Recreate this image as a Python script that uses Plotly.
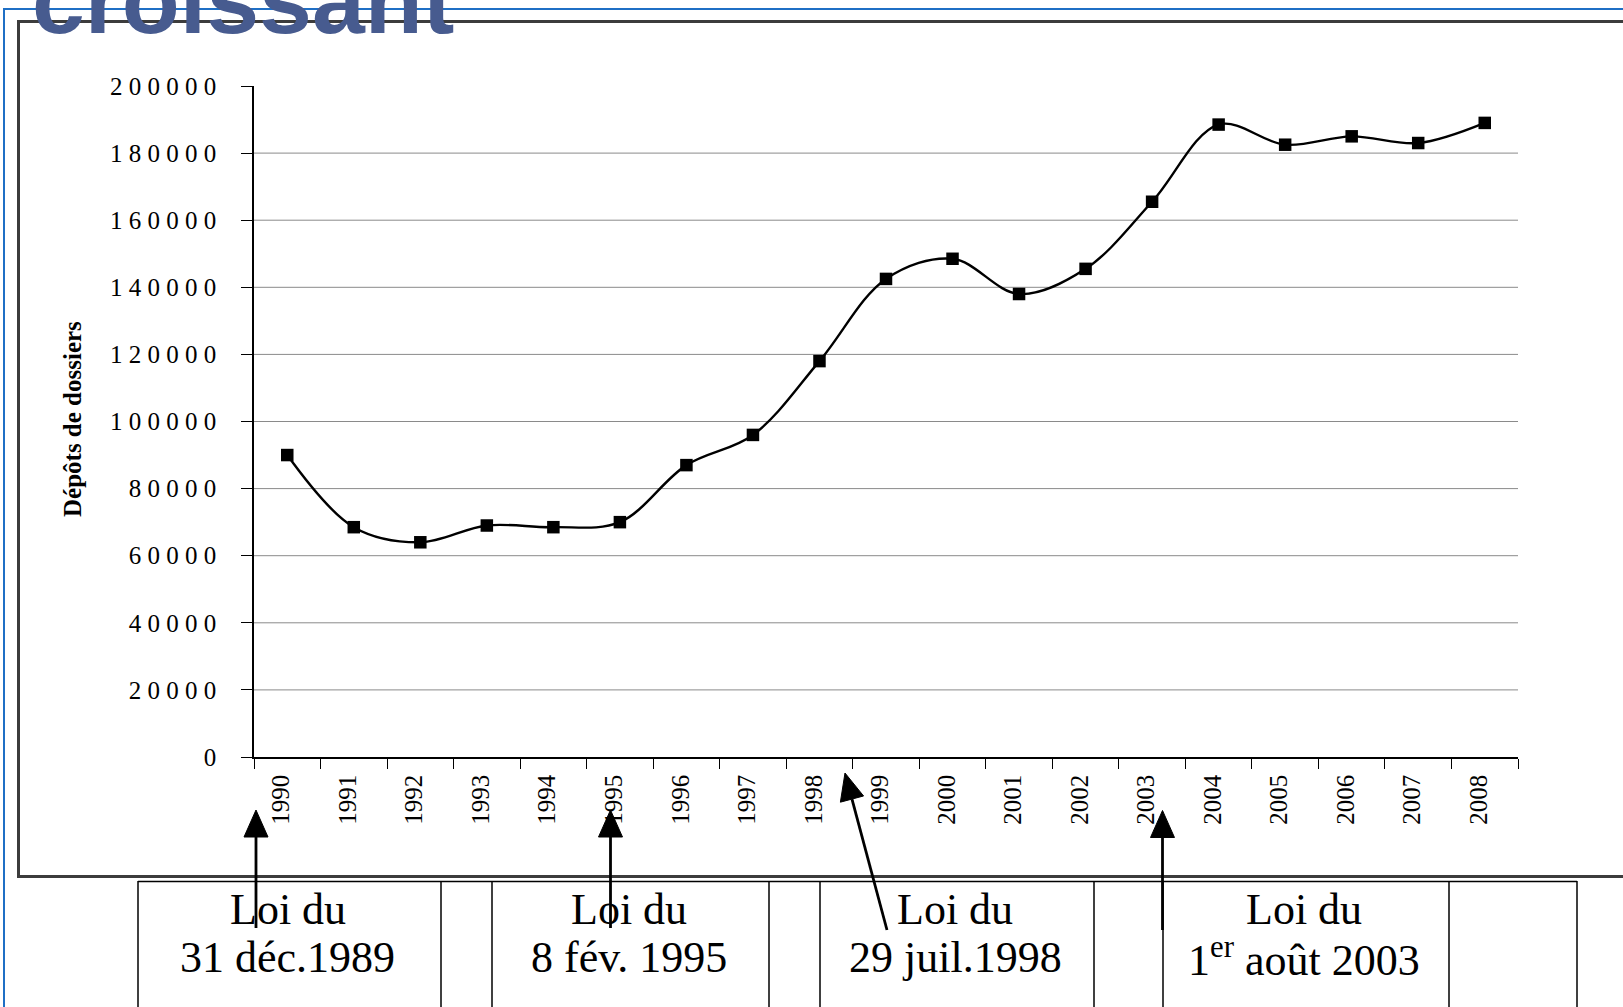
import math
import plotly.graph_objects as go

# ---------------- data ----------------
years = ["1990", "1991", "1992", "1993", "1994", "1995", "1996", "1997", "1998", "1999",
         "2000", "2001", "2002", "2003", "2004", "2005", "2006", "2007", "2008"]
depots = [90000, 68500, 64000, 69000, 68500, 70000, 87000, 96000, 118000, 142500,
          148500, 138000, 145500, 165500, 188500, 182500, 185000, 183000, 189000]
y_tickvals = [0, 20000, 40000, 60000, 80000, 100000, 120000, 140000, 160000, 180000, 200000]
y_ticktext = [" ".join(str(v)) for v in y_tickvals]
y_title = "Dépôts de dossiers"
big_title = "croissant"
law_lines1 = ["Loi du", "Loi du", "Loi du", "Loi du"]
law_lines2 = ["31 déc.1989", "8 fév. 1995", "29 juil.1998", "1<sup>er</sup> août 2003"]

# ---------------- layout geometry (page pixels) ----------------
FW, FH = 1623, 1007
L, R, T, B = 254, 1518, 86, 757  # plot area in page pixels
W, H = R - L, B - T

SERIF = "Liberation Serif"


def px(x):
    return (x - L) / W


def py(y):
    return (B - y) / H


fig = go.Figure()
fig.add_trace(go.Scatter(
    x=years, y=depots, mode="lines+markers",
    line=dict(color="black", width=2.4, shape="spline", smoothing=1.0),
    marker=dict(symbol="square", size=12.5, color="black"),
    showlegend=False, cliponaxis=False, hoverinfo="skip",
))

shapes = []
for v in y_tickvals[1:-1]:
    shapes.append(dict(type="line", xref="paper", yref="y", x0=0, x1=1, y0=v, y1=v,
                       line=dict(color="#8a8a8a", width=1), layer="below"))

# blue outer frame
shapes.append(dict(type="rect", xref="paper", yref="paper",
                   x0=px(4), x1=px(1800), y0=py(9), y1=py(1200),
                   line=dict(color="#1F6FC5", width=2), layer="below"))
# dark inner frame
shapes.append(dict(type="rect", xref="paper", yref="paper",
                   x0=px(18.5), x1=px(1800), y0=py(21.5), y1=py(876.5),
                   line=dict(color="#3c3c3c", width=3), layer="below"))

# table of laws below
box_x = [138, 441, 492, 769, 820, 1094, 1163, 1449, 1577]
shapes.append(dict(type="line", xref="paper", yref="paper",
                   x0=px(box_x[0]), x1=px(box_x[-1]), y0=py(881.5), y1=py(881.5),
                   line=dict(color="black", width=1.5)))
for bx in box_x:
    shapes.append(dict(type="line", xref="paper", yref="paper",
                       x0=px(bx), x1=px(bx), y0=py(881), y1=py(1100),
                       line=dict(color="black", width=1.5)))


def arrow(tail, tip, hl=27, hw=12, width=2.8):
    dx, dy = tip[0] - tail[0], tip[1] - tail[1]
    n = math.hypot(dx, dy)
    ux, uy = dx / n, dy / n
    bx, by = tip[0] - ux * hl, tip[1] - uy * hl
    nx, ny = -uy, ux
    shapes.append(dict(type="line", xref="paper", yref="paper",
                       x0=px(tail[0]), y0=py(tail[1]), x1=px(bx), y1=py(by),
                       line=dict(color="black", width=width)))
    pts = [(tip[0], tip[1]), (bx + nx * hw, by + ny * hw), (bx - nx * hw, by - ny * hw)]
    path = "M " + " L ".join(f"{px(a):.5f},{py(b):.5f}" for a, b in pts) + " Z"
    shapes.append(dict(type="path", xref="paper", yref="paper", path=path,
                       fillcolor="black", line=dict(color="black", width=1)))


arrow((256, 928), (256, 810))
arrow((610.5, 928), (610.5, 810))
arrow((887, 930), (845, 773))
arrow((1162.5, 930), (1162.5, 810.5))

annotations = []
annotations.append(dict(text=f"<b>{big_title}</b>", xref="paper", yref="paper",
                        x=px(30), y=py(55), xanchor="left", yanchor="bottom",
                        showarrow=False,
                        font=dict(family="Liberation Sans", size=95, color="#475B8F")))
annotations.append(dict(text=f"<b>{y_title}</b>", xref="paper", yref="paper",
                        x=px(72), y=py(419), xanchor="center", yanchor="middle",
                        textangle=-90, showarrow=False,
                        font=dict(family=SERIF, size=25, color="black")))
centers = [289.5, 630.5, 957, 1306]
for cx, t1, t2 in zip(centers, law_lines1, law_lines2):
    annotations.append(dict(text=t1, xref="paper", yref="paper", x=px(cx - 2), y=py(909),
                            xanchor="center", yanchor="middle", showarrow=False,
                            font=dict(family=SERIF, size=44, color="black")))
    annotations.append(dict(text=t2, xref="paper", yref="paper", x=px(cx - 2), y=py(957),
                            xanchor="center", yanchor="middle", showarrow=False,
                            font=dict(family=SERIF, size=44, color="black")))

fig.update_layout(
    width=FW, height=FH,
    margin=dict(l=L, r=FW - R, t=T, b=FH - B, pad=0),
    paper_bgcolor="white", plot_bgcolor="white",
    shapes=shapes, annotations=annotations, hovermode=False,
    xaxis=dict(type="category", tickson="boundaries", ticks="outside", ticklen=10,
               tickwidth=1.3, tickcolor="black", showline=True, linecolor="black",
               linewidth=1.5, showgrid=False, zeroline=False, tickangle=-90,
               ticklabelstandoff=6, ticklabelshift=-6, automargin=False,
               tickfont=dict(family=SERIF, size=25, color="black"),
               range=[-0.5, len(years) - 0.5]),
    yaxis=dict(range=[0, 200000], tickvals=y_tickvals, ticktext=y_ticktext,
               ticks="outside", ticklen=11, tickwidth=1.3, tickcolor="black",
               showline=True, linecolor="black", linewidth=1.5, showgrid=False,
               zeroline=False, ticklabelstandoff=20, automargin=False,
               tickfont=dict(family=SERIF, size=25, color="black")),
)

fig.write_html("out.html", config={"displayModeBar": False},
               post_script="document.body.style.margin='0';document.body.style.overflow='hidden';")
